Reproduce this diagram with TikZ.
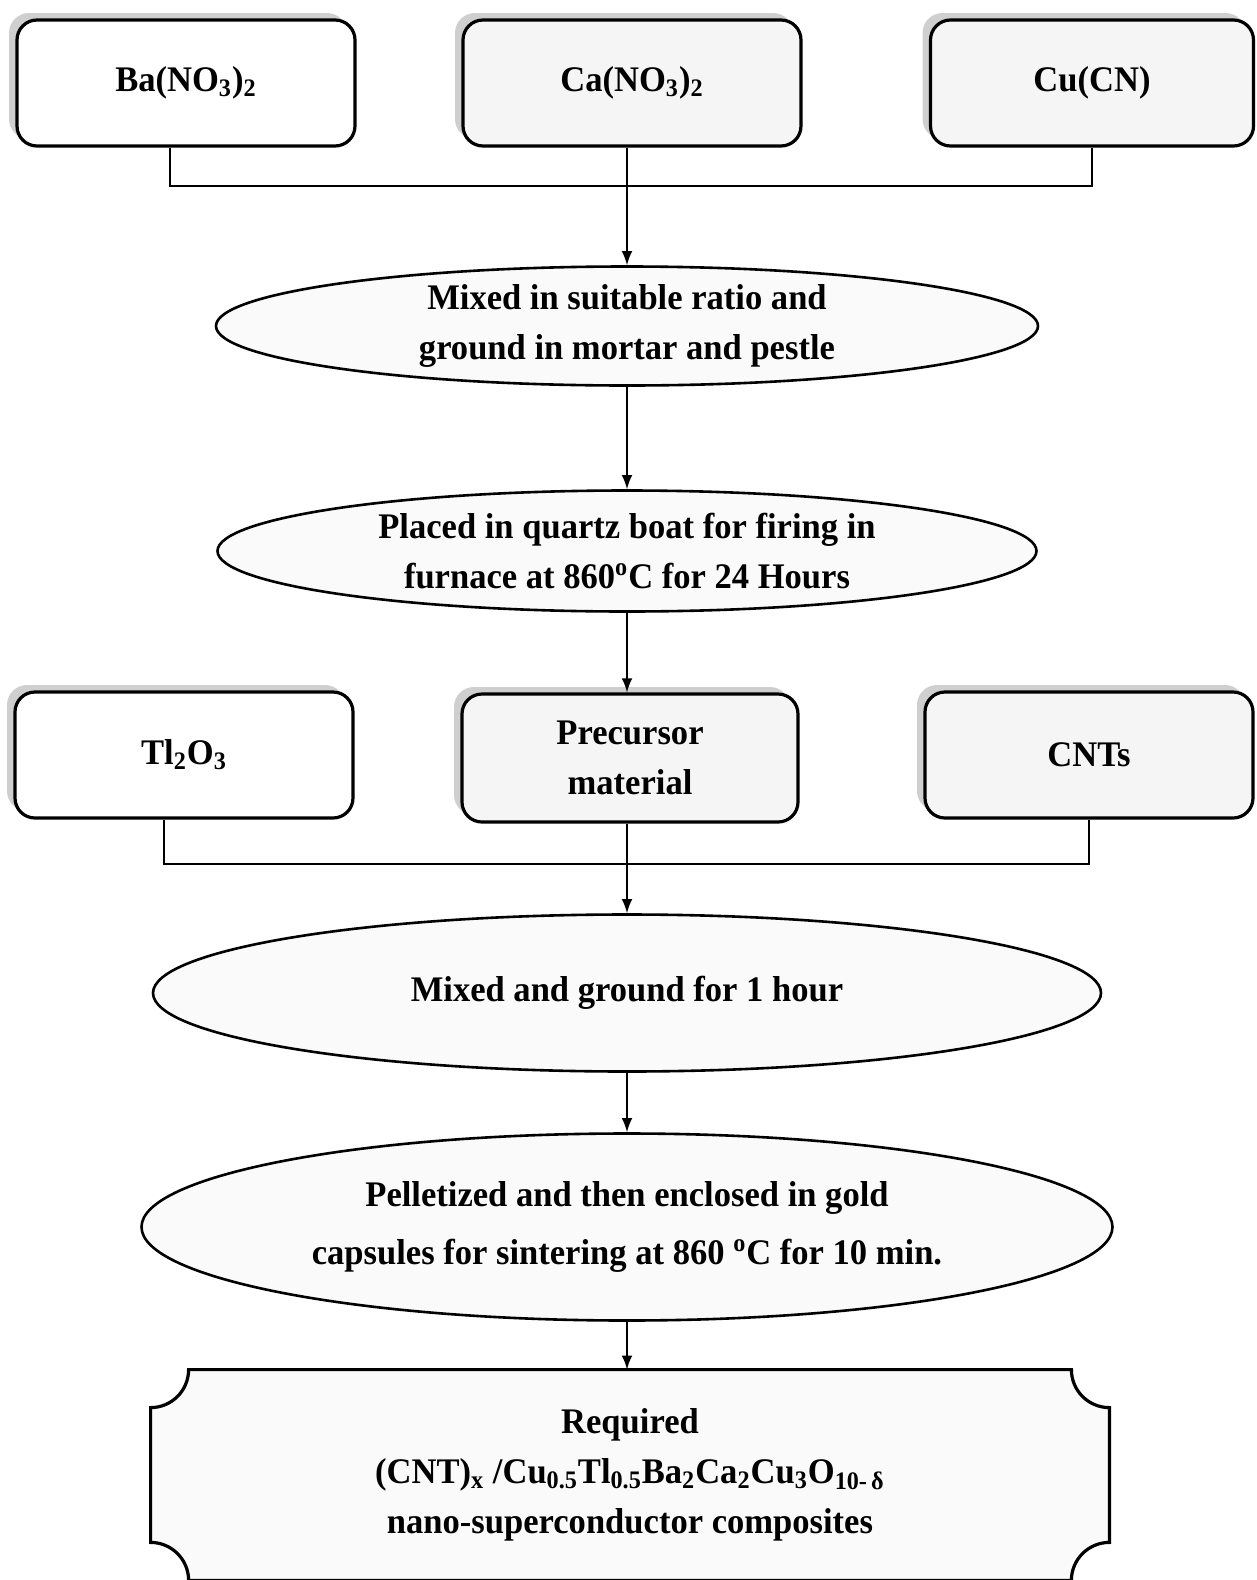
\documentclass[tikz,border=0pt]{standalone}
\usepackage{fontspec}
\setmainfont{Liberation Serif}[FakeStretch = 0.96]
\usepackage{tikz}
\usetikzlibrary{shapes}
\usetikzlibrary{shapes.geometric}
\usetikzlibrary{shadows}

% outline of the final box, corners cut inwards
\newcommand{\plaqueoutline}{([xshift = 19pt]req.north west) -- ([xshift = -19pt]req.north east)
  arc[start angle = 180, end angle = 270, radius = 19pt] -- ([yshift = 19pt]req.south east)
  arc[start angle = 90, end angle = 180, radius = 19pt] -- ([xshift = 19pt]req.south west)
  arc[start angle = 0, end angle = 90, radius = 19pt] -- ([yshift = -19pt]req.north west)
  arc[start angle = 270, end angle = 360, radius = 19pt] -- cycle}

\begin{document}
\begin{tikzpicture}[x = 0.5pt, y = 0.5pt, font = \bfseries\fontsize{18}{25}\selectfont,
  chem/.style = {draw, rounded corners = 10pt, line width = 1.6pt, fill = white,
    minimum width = 169pt, minimum height = 63pt, align = center,
    drop shadow = {shadow xshift = -4pt, shadow yshift = 3.5pt, fill = gray!38, opacity = 1}},
  speckled/.style = {fill = gray!8},
  stage/.style = {ellipse, draw, line width = 1.3pt, fill = gray!4, inner sep = 0pt, align = center},
  wire/.style = {line width = 1.4pt}]
  \useasboundingbox (0, 0) rectangle (1257, -1580);
  % starting materials
  \node[chem] at (186, -83) (ba) {Ba(NO\textsubscript{3})\textsubscript{2}};
  \node[chem, speckled] at (632, -83) (ca) {Ca(NO\textsubscript{3})\textsubscript{2}};
  \node[chem, speckled, minimum width = 161.5pt] at (1092, -83) (cu) {Cu(CN)};
  \coordinate (top) at (627, -186);
  \draw[wire] ([xshift = -8pt]ba.south) |- (top) -| (cu.south);
  \node[stage, minimum width = 411pt, minimum height = 59.5pt] at (627, -326) (mix)
    {Mixed in suitable ratio and\\ground in mortar and pestle};
  \node[stage, minimum width = 409.5pt, minimum height = 60.5pt] at (627, -551) (fire)
    {Placed in quartz boat for firing in\\furnace at 860\textsuperscript{o}C for 24 Hours};
  \draw[wire, -latex] (ca.south -| mix.north) -- (mix.north);
  \draw[wire, -latex] (mix.south) -- (fire.north);
  % second batch
  \node[chem] at (184, -755) (tl) {Tl\textsubscript{2}O\textsubscript{3}};
  \node[chem, speckled, minimum width = 168pt, minimum height = 64pt] at (630, -758) (pre) {Precursor\\material};
  \node[chem, speckled, minimum width = 164pt] at (1089, -755) (cnt) {CNTs};
  \draw[wire, -latex] (fire.south) -- (fire.south |- pre.north);
  \coordinate (mid) at (627, -864);
  \draw[wire] ([xshift = -10pt]tl.south) |- (mid) -| (cnt.south);
  \node[stage, minimum width = 474pt, minimum height = 78.5pt] at (627, -993) (grind)
    {Mixed and ground for 1 hour};
  \node[stage, minimum width = 485.5pt, minimum height = 93.5pt] at (627, -1227) (sinter)
    {Pelletized and then enclosed in gold\\[4pt]capsules for sintering at 860 \textsuperscript{o}C for 10 min.};
  \draw[wire, -latex] (pre.south -| grind.north) -- (grind.north);
  \draw[wire, -latex] (grind.south) -- (sinter.north);
  % product
  \node[minimum width = 479pt, minimum height = 105pt, align = center] at (630, -1475) (req) {};
  \fill[gray!38, xshift = -4pt, yshift = 3.5pt] \plaqueoutline;
  \filldraw[line width = 1.6pt, fill = gray!4] \plaqueoutline;
  \node[align = center] at (req) {Required\\(CNT)\textsubscript{x} /Cu\textsubscript{0.5}Tl\textsubscript{0.5}Ba\textsubscript{2}Ca\textsubscript{2}Cu\textsubscript{3}O\textsubscript{10-\,δ}\\nano-superconductor composites};
  \draw[wire, -latex] (sinter.south) -- (sinter.south |- req.north);
\end{tikzpicture}
\end{document}
